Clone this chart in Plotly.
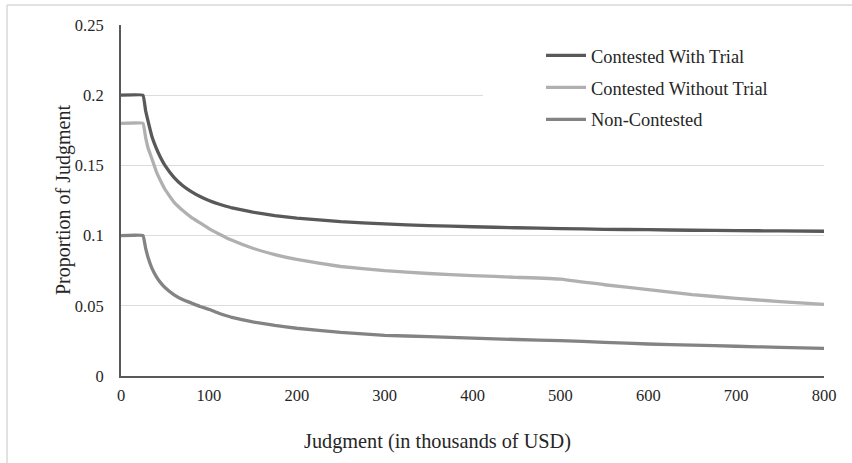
import plotly.graph_objects as go

judgment = [0, 25, 28, 31, 35, 40, 45, 50, 60, 70, 80, 90, 100, 112, 125, 150, 175, 200, 250,
            300, 350, 400, 450, 500, 550, 600, 650, 700, 750, 800]

contested_with_trial = [0.2, 0.2, 0.189, 0.181, 0.171, 0.1625, 0.1556, 0.150, 0.1417, 0.1357,
                        0.1313, 0.1278, 0.125, 0.1223, 0.120, 0.1167, 0.1143, 0.1125, 0.110,
                        0.1083, 0.1071, 0.1063, 0.1056, 0.105, 0.1045, 0.1042, 0.1038, 0.1036,
                        0.1033, 0.1031]

contested_without_trial = [0.18, 0.18, 0.170, 0.162, 0.155, 0.146, 0.139, 0.133, 0.124, 0.118,
                           0.113, 0.109, 0.105, 0.101, 0.097, 0.091, 0.0865, 0.083, 0.078,
                           0.075, 0.073, 0.0715, 0.0703, 0.069, 0.065, 0.0615, 0.058, 0.0553,
                           0.053, 0.051]

non_contested = [0.1, 0.1, 0.091, 0.084, 0.077, 0.071, 0.0665, 0.063, 0.058, 0.0545, 0.052,
                 0.0495, 0.0475, 0.0445, 0.042, 0.0385, 0.036, 0.034, 0.031, 0.029, 0.028,
                 0.027, 0.026, 0.0252, 0.024, 0.0228, 0.022, 0.0212, 0.0204, 0.0197]

series_names = ["Contested With Trial", "Contested Without Trial", "Non-Contested"]
series_colors = ["#595959", "#b0b0b0", "#838383"]

x_ticks = [0, 100, 200, 300, 400, 500, 600, 700, 800]
y_ticks = [0, 0.05, 0.1, 0.15, 0.2, 0.25]
y_tick_labels = ["0", "0.05", "0.1", "0.15", "0.2", "0.25"]

FONT = "Liberation Serif"
W, H = 852, 463
L, R, T, B = 121, 28, 25, 87
PW, PH = W - L - R, H - T - B


def px_x(p):
    return (p - L) / PW


def px_y(p):
    return (H - B - p) / PH


fig = go.Figure()
for name, vals, col in zip(series_names,
                           [contested_with_trial, contested_without_trial, non_contested],
                           series_colors):
    fig.add_trace(go.Scatter(x=judgment, y=vals, mode="lines", name=name,
                             legendgroup=name,
                             line=dict(color=col, width=3.3, shape="spline", smoothing=0.25)))

fig.update_layout(
    width=W, height=H,
    margin=dict(l=L, r=R, t=T, b=B, autoexpand=False),
    paper_bgcolor="white", plot_bgcolor="white",
    font=dict(family=FONT, size=16, color="#262626"),
    showlegend=True,
    legend=dict(x=px_x(541), y=px_y(37), xanchor="left", yanchor="top",
                bgcolor="rgba(0,0,0,0)", font=dict(family=FONT, size=18.4, color="#262626"),
                tracegroupgap=5, itemwidth=40),
    xaxis=dict(range=[0, 800], tickvals=x_ticks, ticktext=[str(v) for v in x_ticks],
               showgrid=False, zeroline=False, showline=True, linecolor="#595959",
               linewidth=2, ticks="", ticklabelstandoff=3,
               tickfont=dict(family=FONT, size=16.5, color="#262626")),
    yaxis=dict(range=[0, 0.25], tickvals=y_ticks, ticktext=y_tick_labels,
               showgrid=True, gridcolor="#dcdcdc", gridwidth=1.2,
               zeroline=False, showline=True, linecolor="#595959", linewidth=2,
               ticks="", ticklabelstandoff=12,
               tickfont=dict(family=FONT, size=16.5, color="#262626")),
    shapes=[
        dict(type="rect", xref="paper", yref="paper", x0=px_x(483), x1=px_x(828),
             y0=px_y(150), y1=px_y(30), fillcolor="white", line=dict(width=0),
             layer="above"),
        dict(type="line", xref="paper", yref="paper", x0=px_x(7), x1=px_x(7),
             y0=px_y(5), y1=px_y(470), line=dict(color="#d9d9d9", width=1.5)),
        dict(type="line", xref="paper", yref="paper", x0=px_x(7), x1=px_x(860),
             y0=px_y(5), y1=px_y(5), line=dict(color="#d9d9d9", width=1.5)),
    ],
    annotations=[
        dict(text="Judgment (in thousands of USD)", xref="paper", yref="paper",
             x=px_x(437), y=px_y(441), xanchor="center", yanchor="middle", showarrow=False,
             font=dict(family=FONT, size=20.3, color="#262626")),
        dict(text="Proportion of Judgment", xref="paper", yref="paper",
             x=px_x(63), y=px_y(200), xanchor="center", yanchor="middle",
             showarrow=False, textangle=-90,
             font=dict(family=FONT, size=20, color="#262626")),
    ],
)

fig.write_html("out.html", config={"displayModeBar": False},
               post_script="document.body.style.margin='0';document.body.style.padding='0';")
